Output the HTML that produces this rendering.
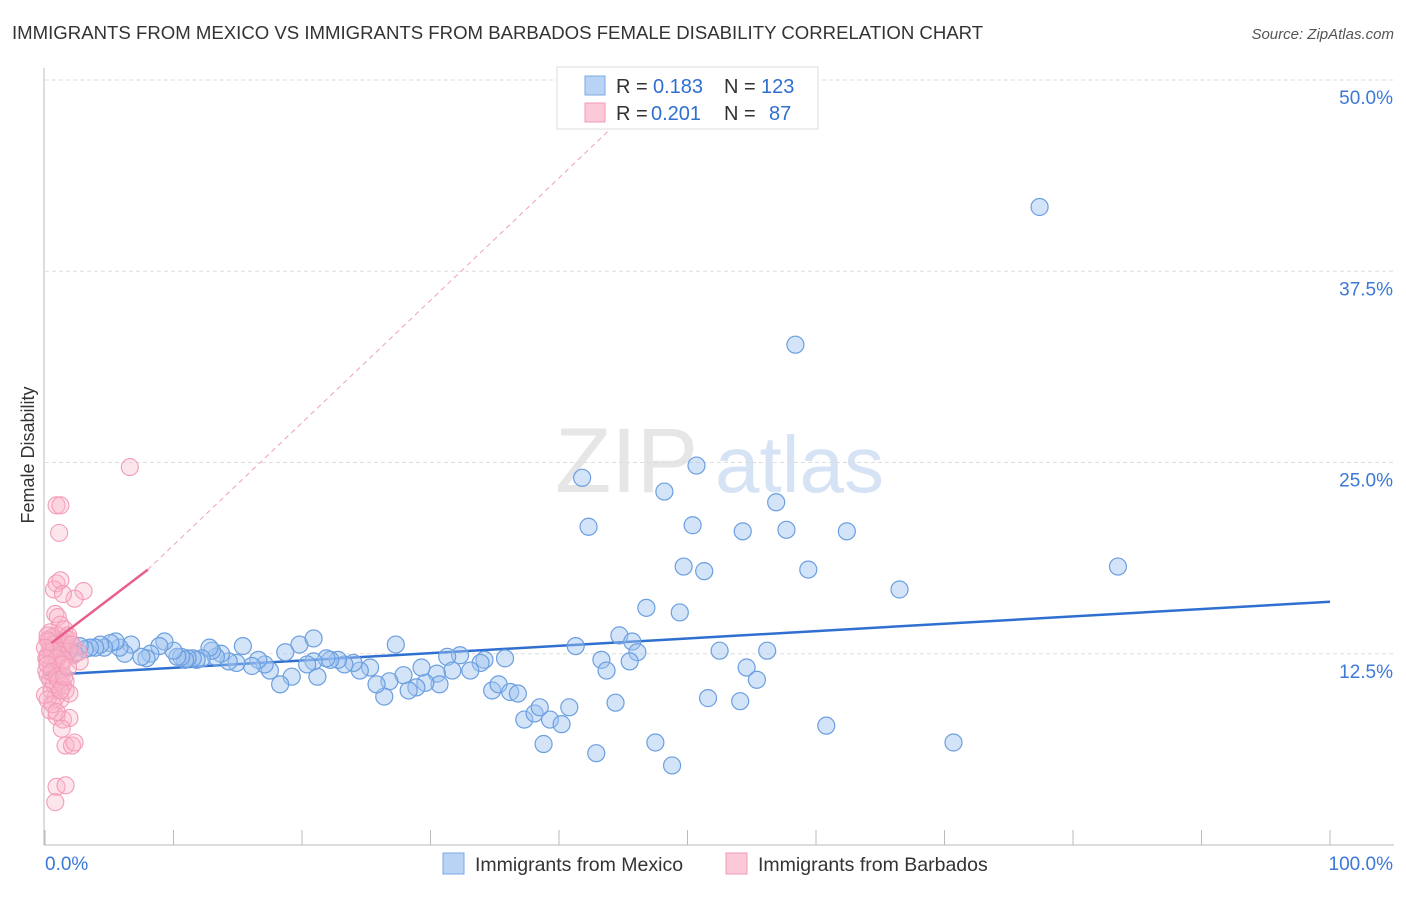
<!DOCTYPE html>
<html><head><meta charset="utf-8"><style>
body{margin:0;background:#fff;font-family:"Liberation Sans",sans-serif}
svg text{font-family:"Liberation Sans",sans-serif}
</style></head><body>
<svg id="c" width="1406" height="892">
<text x="12" y="39" font-size="18.6" fill="#333">IMMIGRANTS FROM MEXICO VS IMMIGRANTS FROM BARBADOS FEMALE DISABILITY CORRELATION CHART</text>
<text x="1394" y="39" font-size="15" fill="#555" text-anchor="end" font-style="italic">Source: ZipAtlas.com</text>
<text x="0" y="0" transform="translate(34,455) rotate(-90)" font-size="18" fill="#333" text-anchor="middle">Female Disability</text>
<g><text x="555" y="492" font-size="92" font-family="Liberation Serif" fill="#e6e6e6">ZIP</text><text x="715" y="492" font-size="80" fill="#d5e3f5">atlas</text></g>
<g id="grid"></g><g id="ticks"></g><g id="lines"></g><g id="pts"></g>
<g>
<rect x="557" y="67" width="261" height="62" fill="#fff" stroke="#ddd"/>
<rect x="585" y="76" width="20" height="19" fill="#b9d3f5" stroke="#7aa8e6"/>
<rect x="585" y="103" width="20" height="19" fill="#fcc9d8" stroke="#f19ab5"/>
<text x="616" y="93" font-size="20" fill="#333">R =</text><text x="653" y="93" font-size="20" fill="#2f6fd0">0.183</text>
<text x="724" y="93" font-size="20" fill="#333">N =</text><text x="761" y="93" font-size="20" fill="#2f6fd0">123</text>
<text x="616" y="120" font-size="20" fill="#333">R =</text><text x="651" y="120" font-size="20" fill="#2f6fd0">0.201</text>
<text x="724" y="120" font-size="20" fill="#333">N =</text><text x="769" y="120" font-size="20" fill="#2f6fd0">87</text>
</g>
<g>
<rect x="443" y="853" width="21" height="21" fill="#b9d3f5" stroke="#7aa8e6"/>
<text x="475" y="871" font-size="19.5" fill="#333">Immigrants from Mexico</text>
<rect x="726" y="853" width="21" height="21" fill="#fcc9d8" stroke="#f19ab5"/>
<text x="758" y="871" font-size="19.5" fill="#333">Immigrants from Barbados</text>
</g>
</svg>
<script>
const yTicks=[12.5,25,37.5,50];
const yTickLabels=["12.5%","25.0%","37.5%","50.0%"];
const xTickVals=[0,10,20,30,40,50,60,70,80,90,100];
const blueX=[77.4,58.4,50.7,41.8,48.2,56.9,42.3,50.4,54.3,57.7,62.4,49.7,51.3,59.4,83.5,66.5,46.8,49.4,44.7,45.7,41.3,46.1,43.3,45.5,43.7,52.5,56.2,54.6,55.4,51.6,54.1,44.4,60.8,70.7,47.5,48.8,42.9,38.8,37.3,38.1,39.3,40.2,40.8,38.5,34.8,35.3,36.2,36.8,32.3,31.3,34.2,33.9,35.8,33.1,31.7,30.5,30.7,29.6,29.3,28.9,28.3,27.9,26.8,26.4,25.8,27.3,25.3,24.5,24.0,23.3,22.8,22.2,21.9,21.2,20.9,20.4,19.8,19.2,20.9,18.7,18.3,17.5,17.1,16.6,16.1,15.4,14.9,14.3,13.7,13.3,13.0,12.8,12.2,11.8,11.5,11.1,10.9,10.6,10.3,10.0,9.3,8.9,8.2,7.9,7.5,6.7,6.2,5.8,5.5,5.1,4.6,4.3,3.9,3.5,3.1,2.7,2.3,1.9,1.5,1.0];
const blueY=[41.7,32.7,24.8,24.0,23.1,22.4,20.8,20.9,20.5,20.6,20.5,18.2,17.9,18.0,18.2,16.7,15.5,15.2,13.7,13.3,13.0,12.6,12.1,12.0,11.4,12.7,12.7,11.6,10.8,9.6,9.4,9.3,7.8,6.7,6.7,5.2,6.0,6.6,8.2,8.6,8.2,7.9,9.0,9.0,10.1,10.5,10.0,9.9,12.4,12.3,12.1,11.9,12.2,11.4,11.4,11.2,10.5,10.6,11.6,10.3,10.1,11.1,10.7,9.7,10.5,13.1,11.6,11.4,11.9,11.8,12.1,12.1,12.2,11.0,12.0,11.8,13.1,11.0,13.5,12.6,10.5,11.4,11.8,12.1,11.7,13.0,11.9,12.0,12.5,12.3,12.7,12.9,12.2,12.1,12.2,12.2,12.1,12.3,12.3,12.7,13.3,13.0,12.5,12.2,12.3,13.1,12.5,12.9,13.3,13.2,12.9,13.1,12.9,12.9,12.8,13.0,12.5,12.7,12.9,12.7];
const pinkX=[6.6,0.9,1.2,1.1,0.9,1.2,0.7,3.0,2.3,1.4,0.8,1.0,1.2,1.5,1.6,1.9,0.9,0.5,0.4,0.8,1.3,1.8,2.2,2.7,0.2,0.5,0.9,1.3,1.6,1.0,0.5,0.2,0.8,1.2,0.9,1.4,1.9,1.3,1.6,2.1,2.3,0.9,1.6,0.8,0.4,0.6,1.0,1.4,1.7,0.2,0.5,0.9,1.2,0.1,0.4,0.7,0.0,0.2,0.4,0.7,1.0,1.2,1.5,1.8,2.1,0.2,0.3,0.6,0.9,1.3,0.0,0.1,0.2,0.5,0.9,1.1,1.4,1.6,1.9,0.2,0.4,0.6,0.9,1.2,1.5,1.8,2.6];
const pinkY=[24.7,22.2,22.2,20.4,17.1,17.3,16.7,16.6,16.1,16.4,15.1,14.9,14.4,14.1,13.5,13.4,13.4,13.1,12.7,12.4,12.9,12.7,12.4,12.0,12.1,11.8,11.4,11.1,10.7,10.3,10.1,11.1,9.6,9.5,8.4,8.2,8.3,7.6,6.5,6.5,6.7,3.8,3.9,2.8,13.9,13.6,13.7,13.3,13.1,13.4,12.4,12.1,11.9,11.4,10.8,10.5,9.8,12.4,12.9,13.1,12.7,12.4,12.1,13.7,13.1,13.7,13.3,12.7,12.2,11.8,12.9,12.2,11.8,11.3,11.0,10.8,10.4,10.1,9.9,9.5,8.8,9.2,8.7,10.1,11.0,11.6,12.6];
const blueFit=[11.1,15.9];
const pinkFit=[11.6,0.8];
const pinkSolidEnd=8.0, pinkDashEnd=44.1;
const NS="http://www.w3.org/2000/svg";
const X=v=>45+v*12.85, Y=v=>845-v*15.3;
function mk(p,t,a){const e=document.createElementNS(NS,t);for(const k in a)e.setAttribute(k,a[k]);document.getElementById(p).appendChild(e);return e;}
yTicks.forEach((t,i)=>{
 const g=mk('grid','line',{x1:45,x2:1394,y1:Y(t),y2:Y(t),stroke:'#ddd','stroke-dasharray':'4,3'});
 
 
 const l=mk('grid','text',{x:1393,y:Y(t)+24,'font-size':19,fill:'#3b78d8','text-anchor':'end'});
 l.textContent=yTickLabels[i];
 
 
});
const ax=mk('ticks','line',{x1:44,x2:44,y1:68,y2:845,stroke:'#bbb'});


const bx=mk('ticks','line',{x1:44,x2:1394,y1:845,y2:845,stroke:'#bbb'});


xTickVals.forEach(t=>{const e=mk('ticks','line',{x1:X(t),x2:X(t),y1:830,y2:845,stroke:'#bbb'});
 
 });
[[0,"0.0%",'start',45],[100,"100.0%",'end',1393]].forEach(d=>{const e=mk('ticks','text',{x:d[3],y:870,'font-size':19,fill:'#3b78d8','text-anchor':d[2]});e.textContent=d[1];
 
 });
blueX.forEach((v,i)=>{const c=mk('pts','circle',{cx:X(v),cy:Y(blueY[i]),r:8.5,fill:'rgba(160,196,240,0.45)',stroke:'#6b9fe0','stroke-width':1.2});
 
 });
pinkX.forEach((v,i)=>{const c=mk('pts','circle',{cx:X(v),cy:Y(pinkY[i]),r:8.5,fill:'rgba(248,180,200,0.35)',stroke:'#f39cb8','stroke-width':1.1});
 
 });
const bl=mk('lines','line',{x1:X(0),y1:Y(blueFit[0]),x2:X(100),y2:Y(blueFit[1]),stroke:'#2f6fd0','stroke-width':2.5});


const pf=x=>pinkFit[0]+pinkFit[1]*x;
const pd=mk('lines','line',{x1:X(pinkSolidEnd),y1:Y(pf(pinkSolidEnd)),x2:X(pinkDashEnd),y2:Y(pf(pinkDashEnd)),stroke:'#f0a0b8','stroke-width':1,'stroke-dasharray':'5,4'});


const ps=mk('pts','line',{x1:X(0.5),y1:Y(pf(0.5)+1.2),x2:X(pinkSolidEnd),y2:Y(pf(pinkSolidEnd)),stroke:'#e8608a','stroke-width':2.5});


</script>
</body></html>
